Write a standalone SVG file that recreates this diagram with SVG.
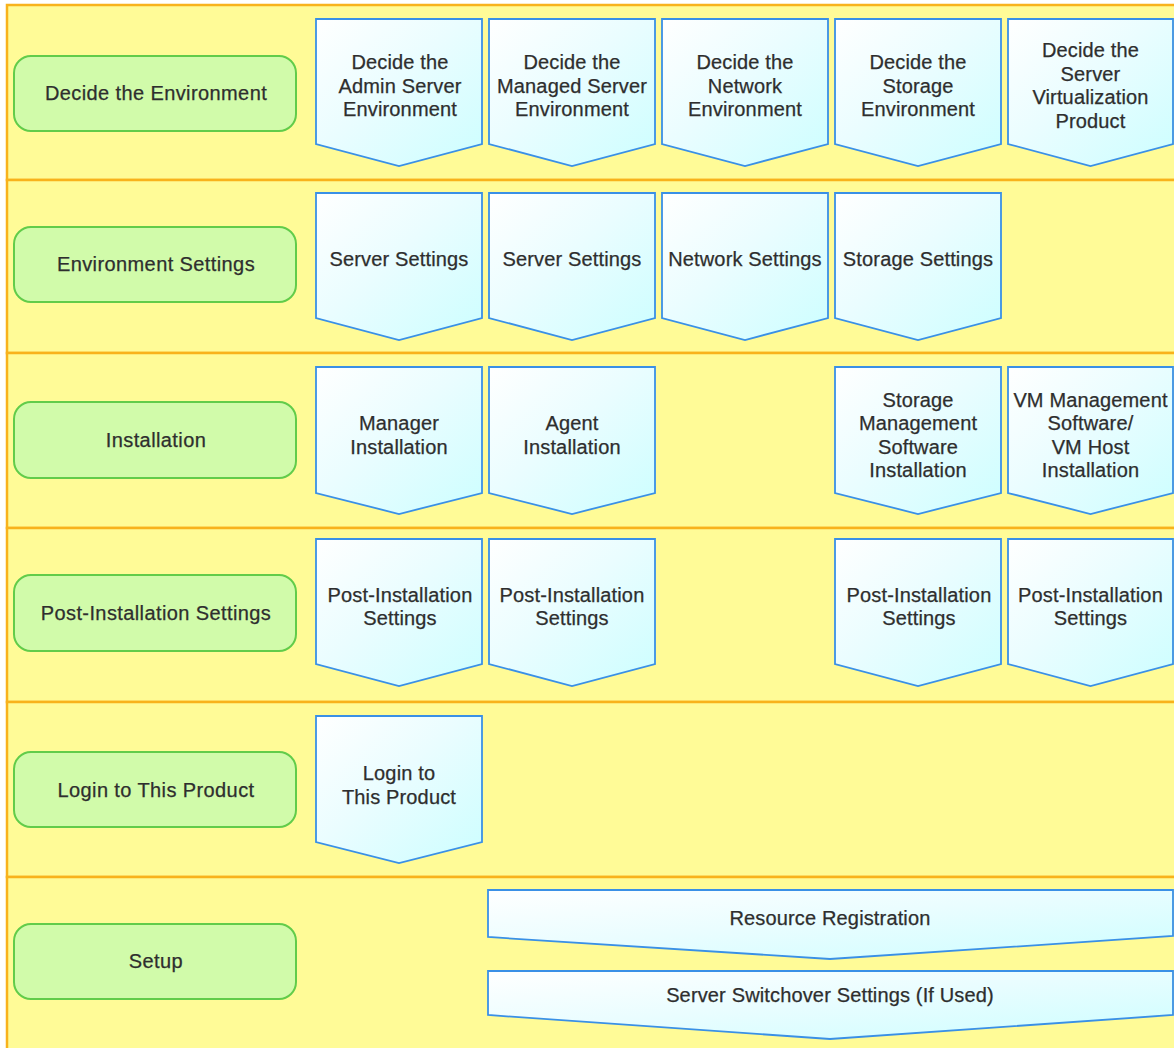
<svg xmlns="http://www.w3.org/2000/svg" width="1174" height="1048" viewBox="0 0 1174 1048">
<defs>
<linearGradient id="pg" x1="0" y1="0" x2="1" y2="1">
<stop offset="0" stop-color="#ffffff"/>
<stop offset="0.45" stop-color="#eafdff"/>
<stop offset="1" stop-color="#ccfeff"/>
</linearGradient>
<style>
.lane{fill:#fffb97;stroke:#f8b21c;stroke-width:2.5}
.grp rect{fill:#d1fbaa;stroke:#62cc4a;stroke-width:2}
.step{fill:url(#pg);stroke:#3a90e6;stroke-width:1.8;stroke-linejoin:miter}
text{font-family:"Liberation Sans",Arial,sans-serif;font-size:20px;letter-spacing:0.15px;fill:#2e2e2e;stroke:#2e2e2e;stroke-width:0.25;text-anchor:middle}
.grp text{letter-spacing:0.4px}
</style>
</defs>
<rect x="0" y="0" width="1174" height="1048" fill="#ffffff"/>
<g id="lanes">
<rect class="lane" x="7" y="5" width="1180" height="175"/>
<rect class="lane" x="7" y="180" width="1180" height="173"/>
<rect class="lane" x="7" y="353" width="1180" height="175"/>
<rect class="lane" x="7" y="528" width="1180" height="174"/>
<rect class="lane" x="7" y="702" width="1180" height="175"/>
<rect class="lane" x="7" y="877" width="1180" height="180"/>
</g>

<g id="phase-decide" class="grp"><rect x="14" y="56" width="282" height="75" rx="17"/><text x="156" y="100">Decide the Environment</text></g>
<g id="phase-envset" class="grp"><rect x="14" y="227" width="282" height="75" rx="17"/><text x="156" y="271">Environment Settings</text></g>
<g id="phase-install" class="grp"><rect x="14" y="402" width="282" height="76" rx="17"/><text x="156" y="447">Installation</text></g>
<g id="phase-post" class="grp"><rect x="14" y="575" width="282" height="76" rx="17"/><text x="156" y="620">Post-Installation Settings</text></g>
<g id="phase-login" class="grp"><rect x="14" y="752" width="282" height="75" rx="17"/><text x="156" y="796.5">Login to This Product</text></g>
<g id="phase-setup" class="grp"><rect x="14" y="924" width="282" height="75" rx="17"/><text x="156" y="968">Setup</text></g>

<g id="s-admin-env"><path class="step" d="M316,19 H482 V144 L399,166 L316,144 Z"/><text x="400" y="69">Decide the</text><text x="400" y="92.5">Admin Server</text><text x="400" y="116">Environment</text></g>
<g id="s-managed-env"><path class="step" d="M489,19 H655 V144 L572,166 L489,144 Z"/><text x="572" y="69">Decide the</text><text x="572" y="92.5">Managed Server</text><text x="572" y="116">Environment</text></g>
<g id="s-network-env"><path class="step" d="M662,19 H828 V144 L745,166 L662,144 Z"/><text x="745" y="69">Decide the</text><text x="745" y="92.5">Network</text><text x="745" y="116">Environment</text></g>
<g id="s-storage-env"><path class="step" d="M835,19 H1001 V144 L918,166 L835,144 Z"/><text x="918" y="69">Decide the</text><text x="918" y="92.5">Storage</text><text x="918" y="116">Environment</text></g>
<g id="s-virt-env"><path class="step" d="M1008,19 H1173 V144 L1090.5,166 L1008,144 Z"/><text x="1090.5" y="57">Decide the</text><text x="1090.5" y="80.5">Server</text><text x="1090.5" y="104">Virtualization</text><text x="1090.5" y="127.5">Product</text></g>

<g id="s-server-set1"><path class="step" d="M316,193 H482 V318 L399,340 L316,318 Z"/><text x="399" y="265.5">Server Settings</text></g>
<g id="s-server-set2"><path class="step" d="M489,193 H655 V318 L572,340 L489,318 Z"/><text x="572" y="265.5">Server Settings</text></g>
<g id="s-network-set"><path class="step" d="M662,193 H828 V318 L745,340 L662,318 Z"/><text x="745" y="265.5">Network Settings</text></g>
<g id="s-storage-set"><path class="step" d="M835,193 H1001 V318 L918,340 L835,318 Z"/><text x="918" y="265.5">Storage Settings</text></g>

<g id="s-manager-inst"><path class="step" d="M316,367 H482 V493 L399,514 L316,493 Z"/><text x="399" y="430">Manager</text><text x="399" y="453.5">Installation</text></g>
<g id="s-agent-inst"><path class="step" d="M489,367 H655 V493 L572,514 L489,493 Z"/><text x="572" y="430">Agent</text><text x="572" y="453.5">Installation</text></g>
<g id="s-storage-inst"><path class="step" d="M835,367 H1001 V493 L918,514 L835,493 Z"/><text x="918" y="406.5">Storage</text><text x="918" y="430">Management</text><text x="918" y="453.5">Software</text><text x="918" y="477">Installation</text></g>
<g id="s-vm-inst"><path class="step" d="M1008,367 H1173 V493 L1090.5,514 L1008,493 Z"/><text x="1090.5" y="406.5">VM Management</text><text x="1090.5" y="430">Software/</text><text x="1090.5" y="453.5">VM Host</text><text x="1090.5" y="477">Installation</text></g>

<g id="s-post1"><path class="step" d="M316,539 H482 V664 L399,686 L316,664 Z"/><text x="400" y="601.5">Post-Installation</text><text x="400" y="625">Settings</text></g>
<g id="s-post2"><path class="step" d="M489,539 H655 V664 L572,686 L489,664 Z"/><text x="572" y="601.5">Post-Installation</text><text x="572" y="625">Settings</text></g>
<g id="s-post3"><path class="step" d="M835,539 H1001 V664 L918,686 L835,664 Z"/><text x="919" y="601.5">Post-Installation</text><text x="919" y="625">Settings</text></g>
<g id="s-post4"><path class="step" d="M1008,539 H1173 V664 L1090.5,686 L1008,664 Z"/><text x="1090.5" y="601.5">Post-Installation</text><text x="1090.5" y="625">Settings</text></g>

<g id="s-login"><path class="step" d="M316,716 H482 V842 L399,863 L316,842 Z"/><text x="399" y="780">Login to</text><text x="399" y="803.5">This Product</text></g>

<g id="s-resource-reg"><path class="step" d="M488,890 H1173 V936 L830,959 L488,937 Z"/><text x="830" y="925">Resource Registration</text></g>
<g id="s-switchover"><path class="step" d="M488,971 H1173 V1015 L830,1039 L488,1015 Z"/><text x="830" y="1002">Server Switchover Settings (If Used)</text></g>

<g id="connectors"/>
</svg>
